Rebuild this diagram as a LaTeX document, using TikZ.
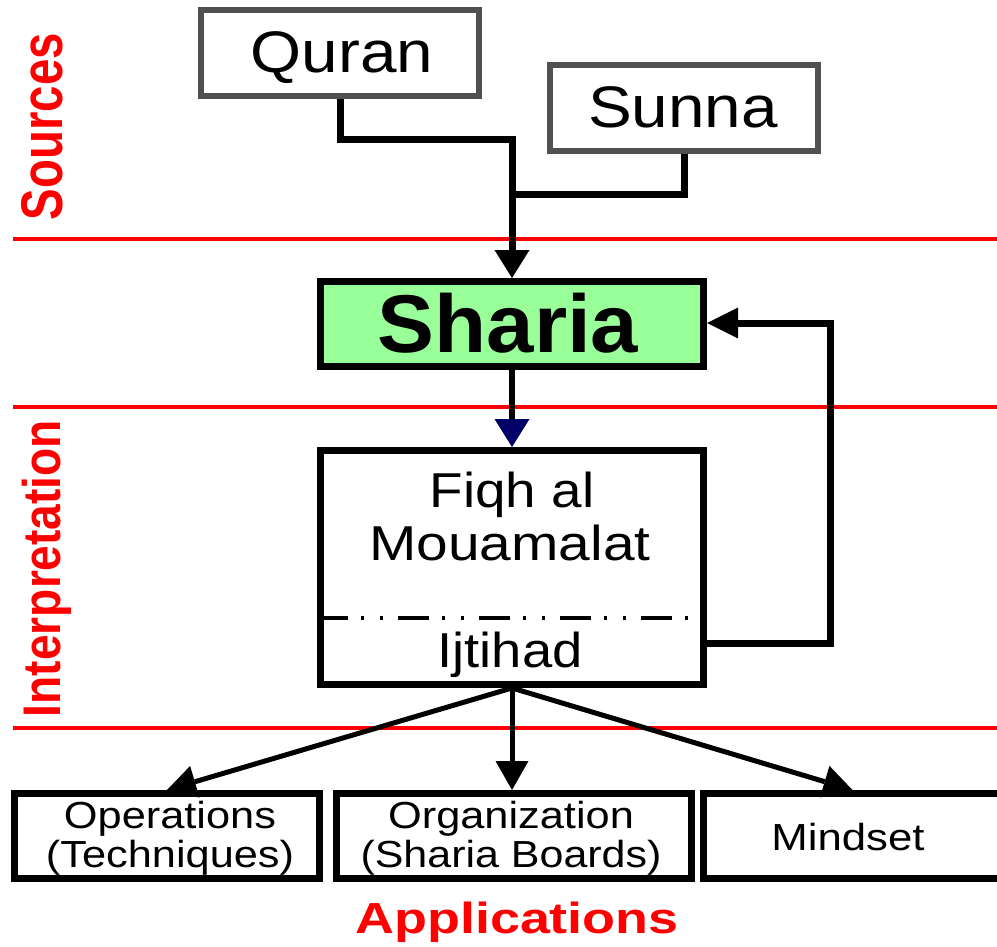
\documentclass[tikz,border=0pt]{standalone}
\usepackage{fontspec}
\setmainfont{Liberation Sans}
\usetikzlibrary{arrows.meta}
\definecolor{boxgray}{HTML}{505050}
\definecolor{shariagreen}{HTML}{99FF99}
\definecolor{tipnavy}{HTML}{000066}
\definecolor{bandred}{HTML}{FF0000}
% horizontal stretch of a piece of text
\newcommand{\sx}[2]{\scalebox{#1}[1]{#2}}
\newcommand{\fs}[1]{\fontsize{#1}{#1}\selectfont}
\begin{document}
\begin{tikzpicture}[
  x=1pt, y=-1pt,
  srcbox/.style={draw=boxgray, line width=6pt, inner sep=0pt, minimum height=86pt},
  frame/.style={draw, line width=7pt, inner sep=0pt},
  txt/.style={inner sep=0pt, anchor=base},
  band/.style={draw=bandred, line width=3.5pt},
  conn/.style={line width=7pt},
  bigtip/.tip={Triangle[length=28pt, width=35pt, line width=0pt]},
  navytip/.tip={Triangle[length=28pt, width=35pt, line width=0pt, color=tipnavy]},
  fbtip/.tip={Triangle[length=31pt, width=31pt, line width=0pt]},
  lowtip/.tip={Triangle[length=29pt, width=33pt, line width=0pt]},
  sectionlabel/.style={inner sep=0pt, anchor=base, rotate=90, text=bandred, font=\bfseries},
]
\clip (0,0) rectangle (997,947);

% section separators
\draw[band] (13,239) -- (997,239);
\draw[band] (13,407) -- (997,407);
\draw[band] (13,728) -- (997,728);

% section labels
\node[sectionlabel, font=\bfseries\fs{47.4}] (lsources) at (62,126.5) {\scalebox{1}[1.24]{Sources}};
\node[sectionlabel, font=\bfseries\fs{46.1}] (linterp) at (60,568.5) {\scalebox{1}[1.15]{Interpretation}};
\node[txt, text=bandred, font=\bfseries\fs{43.5}] (lapps) at (517,933) {\sx{1.24}{Applications}};

% sources
\node[srcbox, minimum width=278pt] (quran) at (340,53) {};
\node[txt, font=\fs{58.6}] (qurant) at (342,73) {\sx{1.12}{Quran}};
\node[srcbox, minimum width=268pt] (sunna) at (684,108) {};
\node[txt, font=\fs{58.6}] (sunnat) at (683,128) {\sx{1.12}{Sunna}};

% sharia
\node[frame, fill=shariagreen, minimum width=383pt, minimum height=85pt] (sharia) at (512,324) {};
\node[txt, font=\bfseries\fs{82}] (shariat) at (508,352) {\sx{1.04}{Sharia}};

% fiqh / ijtihad
\node[frame, minimum width=383pt, minimum height=234pt] (fiqh) at (512,567.5) {};
\coordinate (split) at (0,618);
\draw[line width=4.5pt, dash pattern=on 31pt off 13pt on 3pt off 16pt on 3pt off 15pt]
  (fiqh.west |- split) -- (fiqh.east |- split);
\node[txt, font=\fs{49}] (fiqht1) at (512,507) {\sx{1.12}{Fiqh al}};
\node[txt, font=\fs{49}] (fiqht2) at (510,560) {\sx{1.16}{Mouamalat}};
\node[txt, font=\fs{49}] (ijtt) at (510,667) {\sx{1.11}{Ijtihad}};

% applications
\node[frame, minimum width=305pt, minimum height=85pt] (ops) at (167,836) {};
\node[txt, font=\fs{37.7}] (opst1) at (170,828) {\sx{1.15}{Operations}};
\node[txt, font=\fs{37.7}] (opst2) at (170,867) {\sx{1.15}{(Techniques)}};
\node[frame, minimum width=355pt, minimum height=85pt] (org) at (514,836) {};
\node[txt, font=\fs{37.7}] (orgt1) at (511,828) {\sx{1.15}{Organization}};
\node[txt, font=\fs{37.7}] (orgt2) at (511,867) {\sx{1.14}{(Sharia Boards)}};
\node[frame, minimum width=298pt, minimum height=85pt] (mind) at (852.5,836) {};
\node[txt, font=\fs{37.7}] (mindt) at (848,850) {\sx{1.16}{Mindset}};

% connectors
\coordinate (qj) at (512,140);
\coordinate (sj) at (512,195);
\draw[conn, -{bigtip}] (quran.south) |- (qj) -- (sharia.north);
\draw[conn] (sunna.south) |- (sj);
\draw[line width=6pt, -{navytip}] (sharia.south) -- (fiqh.north);
\coordinate (fbl) at (830,643);
\coordinate (fbu) at (830,323);
\draw[conn, -{fbtip}] (fiqh.east |- fbl) -- (fbl) -- (fbu) -- (sharia.east |- fbu);
\draw[line width=5pt, -{lowtip}] (fiqh.south) -- (ops.north);
\draw[line width=5pt, -{lowtip}] (fiqh.south) -- (fiqh.south |- org.north);
\draw[line width=5pt, -{lowtip}] (fiqh.south) -- (mind.north);
\end{tikzpicture}
\end{document}
